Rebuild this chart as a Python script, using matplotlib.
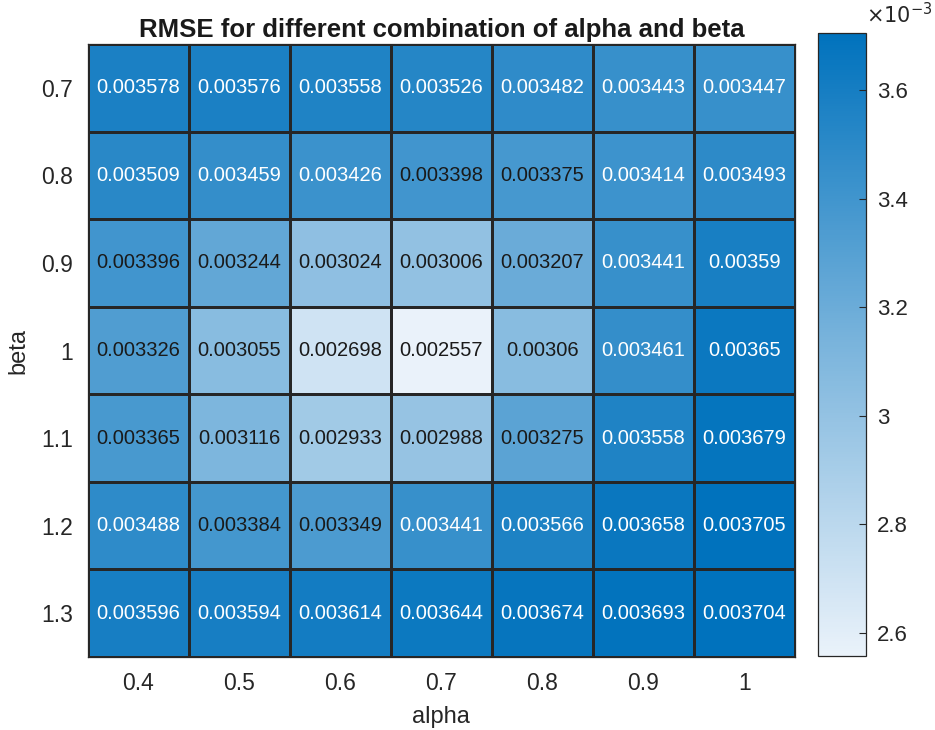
import numpy as np
import matplotlib.pyplot as plt
from matplotlib.colors import LinearSegmentedColormap
from matplotlib.ticker import FuncFormatter

plt.rcParams['font.family'] = ['Liberation Sans', 'DejaVu Sans']

alpha = ['0.4', '0.5', '0.6', '0.7', '0.8', '0.9', '1']
beta = ['0.7', '0.8', '0.9', '1', '1.1', '1.2', '1.3']

rmse_07 = [0.003578, 0.003576, 0.003558, 0.003526, 0.003482, 0.003443, 0.003447]
rmse_08 = [0.003509, 0.003459, 0.003426, 0.003398, 0.003375, 0.003414, 0.003493]
rmse_09 = [0.003396, 0.003244, 0.003024, 0.003006, 0.003207, 0.003441, 0.00359]
rmse_10 = [0.003326, 0.003055, 0.002698, 0.002557, 0.00306, 0.003461, 0.00365]
rmse_11 = [0.003365, 0.003116, 0.002933, 0.002988, 0.003275, 0.003558, 0.003679]
rmse_12 = [0.003488, 0.003384, 0.003349, 0.003441, 0.003566, 0.003658, 0.003705]
rmse_13 = [0.003596, 0.003594, 0.003614, 0.003644, 0.003674, 0.003693, 0.003704]

data = np.array([rmse_07, rmse_08, rmse_09, rmse_10, rmse_11, rmse_12, rmse_13])

cmap = LinearSegmentedColormap.from_list('blues', ['#eaf2fa', '#7ab4dc', '#0072bd'])

fig = plt.figure(figsize=(9.35, 7.3), dpi=100)
ax = fig.add_axes([0.0941, 0.1, 0.756, 0.8397])
cax = fig.add_axes([0.8749, 0.1014, 0.0513, 0.853])

vmin, vmax = data.min(), data.max()
im = ax.pcolormesh(data, cmap=cmap, vmin=vmin, vmax=vmax,
                   edgecolors='#262626', linewidth=0.9)
ax.set_xlim(0, len(alpha))
ax.set_ylim(len(beta), 0)

for i in range(len(beta)):
    for j in range(len(alpha)):
        v = data[i, j]
        col = 'white' if v > 0.00341 else '#1a1a1a'
        ax.text(j + 0.5, i + 0.5, f'{v:.4g}', ha='center', va='center',
                fontsize=14.5, color=col)

ax.set_xticks(np.arange(len(alpha)) + 0.5)
ax.set_xticklabels(alpha)
ax.set_yticks(np.arange(len(beta)) + 0.5)
ax.set_yticklabels(beta)
ax.tick_params(length=0, labelsize=16.5, pad=11, colors='#262626')
for s in ax.spines.values():
    s.set_color('#262626')
    s.set_linewidth(0.9)
ax.set_xlabel('alpha', fontsize=17, color='#262626', labelpad=8)
ax.set_ylabel('beta', fontsize=17, color='#262626', labelpad=8)
ax.set_title('RMSE for different combination of alpha and beta',
             fontsize=18.5, fontweight='bold', color='#1a1a1a', pad=5)

cb = fig.colorbar(im, cax=cax)
cb.set_ticks([0.0026, 0.0028, 0.0030, 0.0032, 0.0034, 0.0036])
cb.ax.yaxis.set_major_formatter(FuncFormatter(lambda v, p: f'{v * 1e3:g}'))
cb.ax.tick_params(direction='in', length=5, labelsize=16, colors='#262626', pad=8)
cb.outline.set_edgecolor('#262626')
cb.outline.set_linewidth(0.9)
cb.ax.text(1.0, 1.01, r'$\times10^{-3}$', transform=cb.ax.transAxes,
           fontsize=15, color='#262626', ha='left', va='bottom')

fig.savefig('out.png', dpi=100)
